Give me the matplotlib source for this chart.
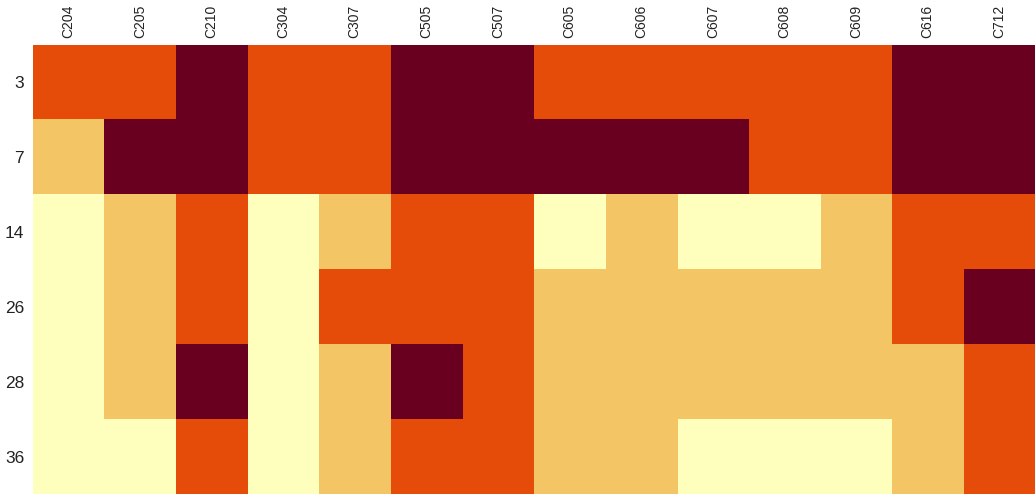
import numpy as np
import matplotlib.pyplot as plt
from matplotlib.colors import ListedColormap, BoundaryNorm

plt.rcParams['font.family'] = ['Liberation Sans', 'DejaVu Sans']

# station codes (columns) and day of sampling (rows)
stations = ["C204", "C205", "C210", "C304", "C307", "C505", "C507",
            "C605", "C606", "C607", "C608", "C609", "C616", "C712"]
days = ["3", "7", "14", "26", "28", "36"]

# class per cell: 0 = low ... 3 = severe
day_3 = [2, 2, 3, 2, 2, 3, 3, 2, 2, 2, 2, 2, 3, 3]
day_7 = [1, 3, 3, 2, 2, 3, 3, 3, 3, 3, 2, 2, 3, 3]
day_14 = [0, 1, 2, 0, 1, 2, 2, 0, 1, 0, 0, 1, 2, 2]
day_26 = [0, 1, 2, 0, 2, 2, 2, 1, 1, 1, 1, 1, 2, 3]
day_28 = [0, 1, 3, 0, 1, 3, 2, 1, 1, 1, 1, 1, 1, 2]
day_36 = [0, 0, 2, 0, 1, 2, 2, 1, 1, 0, 0, 0, 1, 2]

levels = np.array([day_3, day_7, day_14, day_26, day_28, day_36])

cmap = ListedColormap(["#fefebd", "#f4c565", "#e54c0a", "#6a001f"])
norm = BoundaryNorm([-0.5, 0.5, 1.5, 2.5, 3.5], cmap.N)

fig = plt.figure(figsize=(10.35, 4.94), dpi=100)
ax = fig.add_axes([32.5 / 1035, 0, 1 - 32.5 / 1035, 1 - 45 / 494])

ax.imshow(levels, cmap=cmap, norm=norm, aspect='auto', interpolation='nearest')

ax.set_xticks(np.arange(len(stations)))
ax.set_xticklabels(stations, rotation=90, fontsize=10)
ax.set_yticks(np.arange(len(days)))
ax.set_yticklabels(days, fontsize=12.5)
ax.xaxis.tick_top()
ax.tick_params(axis='both', length=0, colors='#222222')
ax.tick_params(axis='x', pad=5)
ax.tick_params(axis='y', pad=6)
for spine in ax.spines.values():
    spine.set_visible(False)

fig.savefig("out.png", dpi=100)
